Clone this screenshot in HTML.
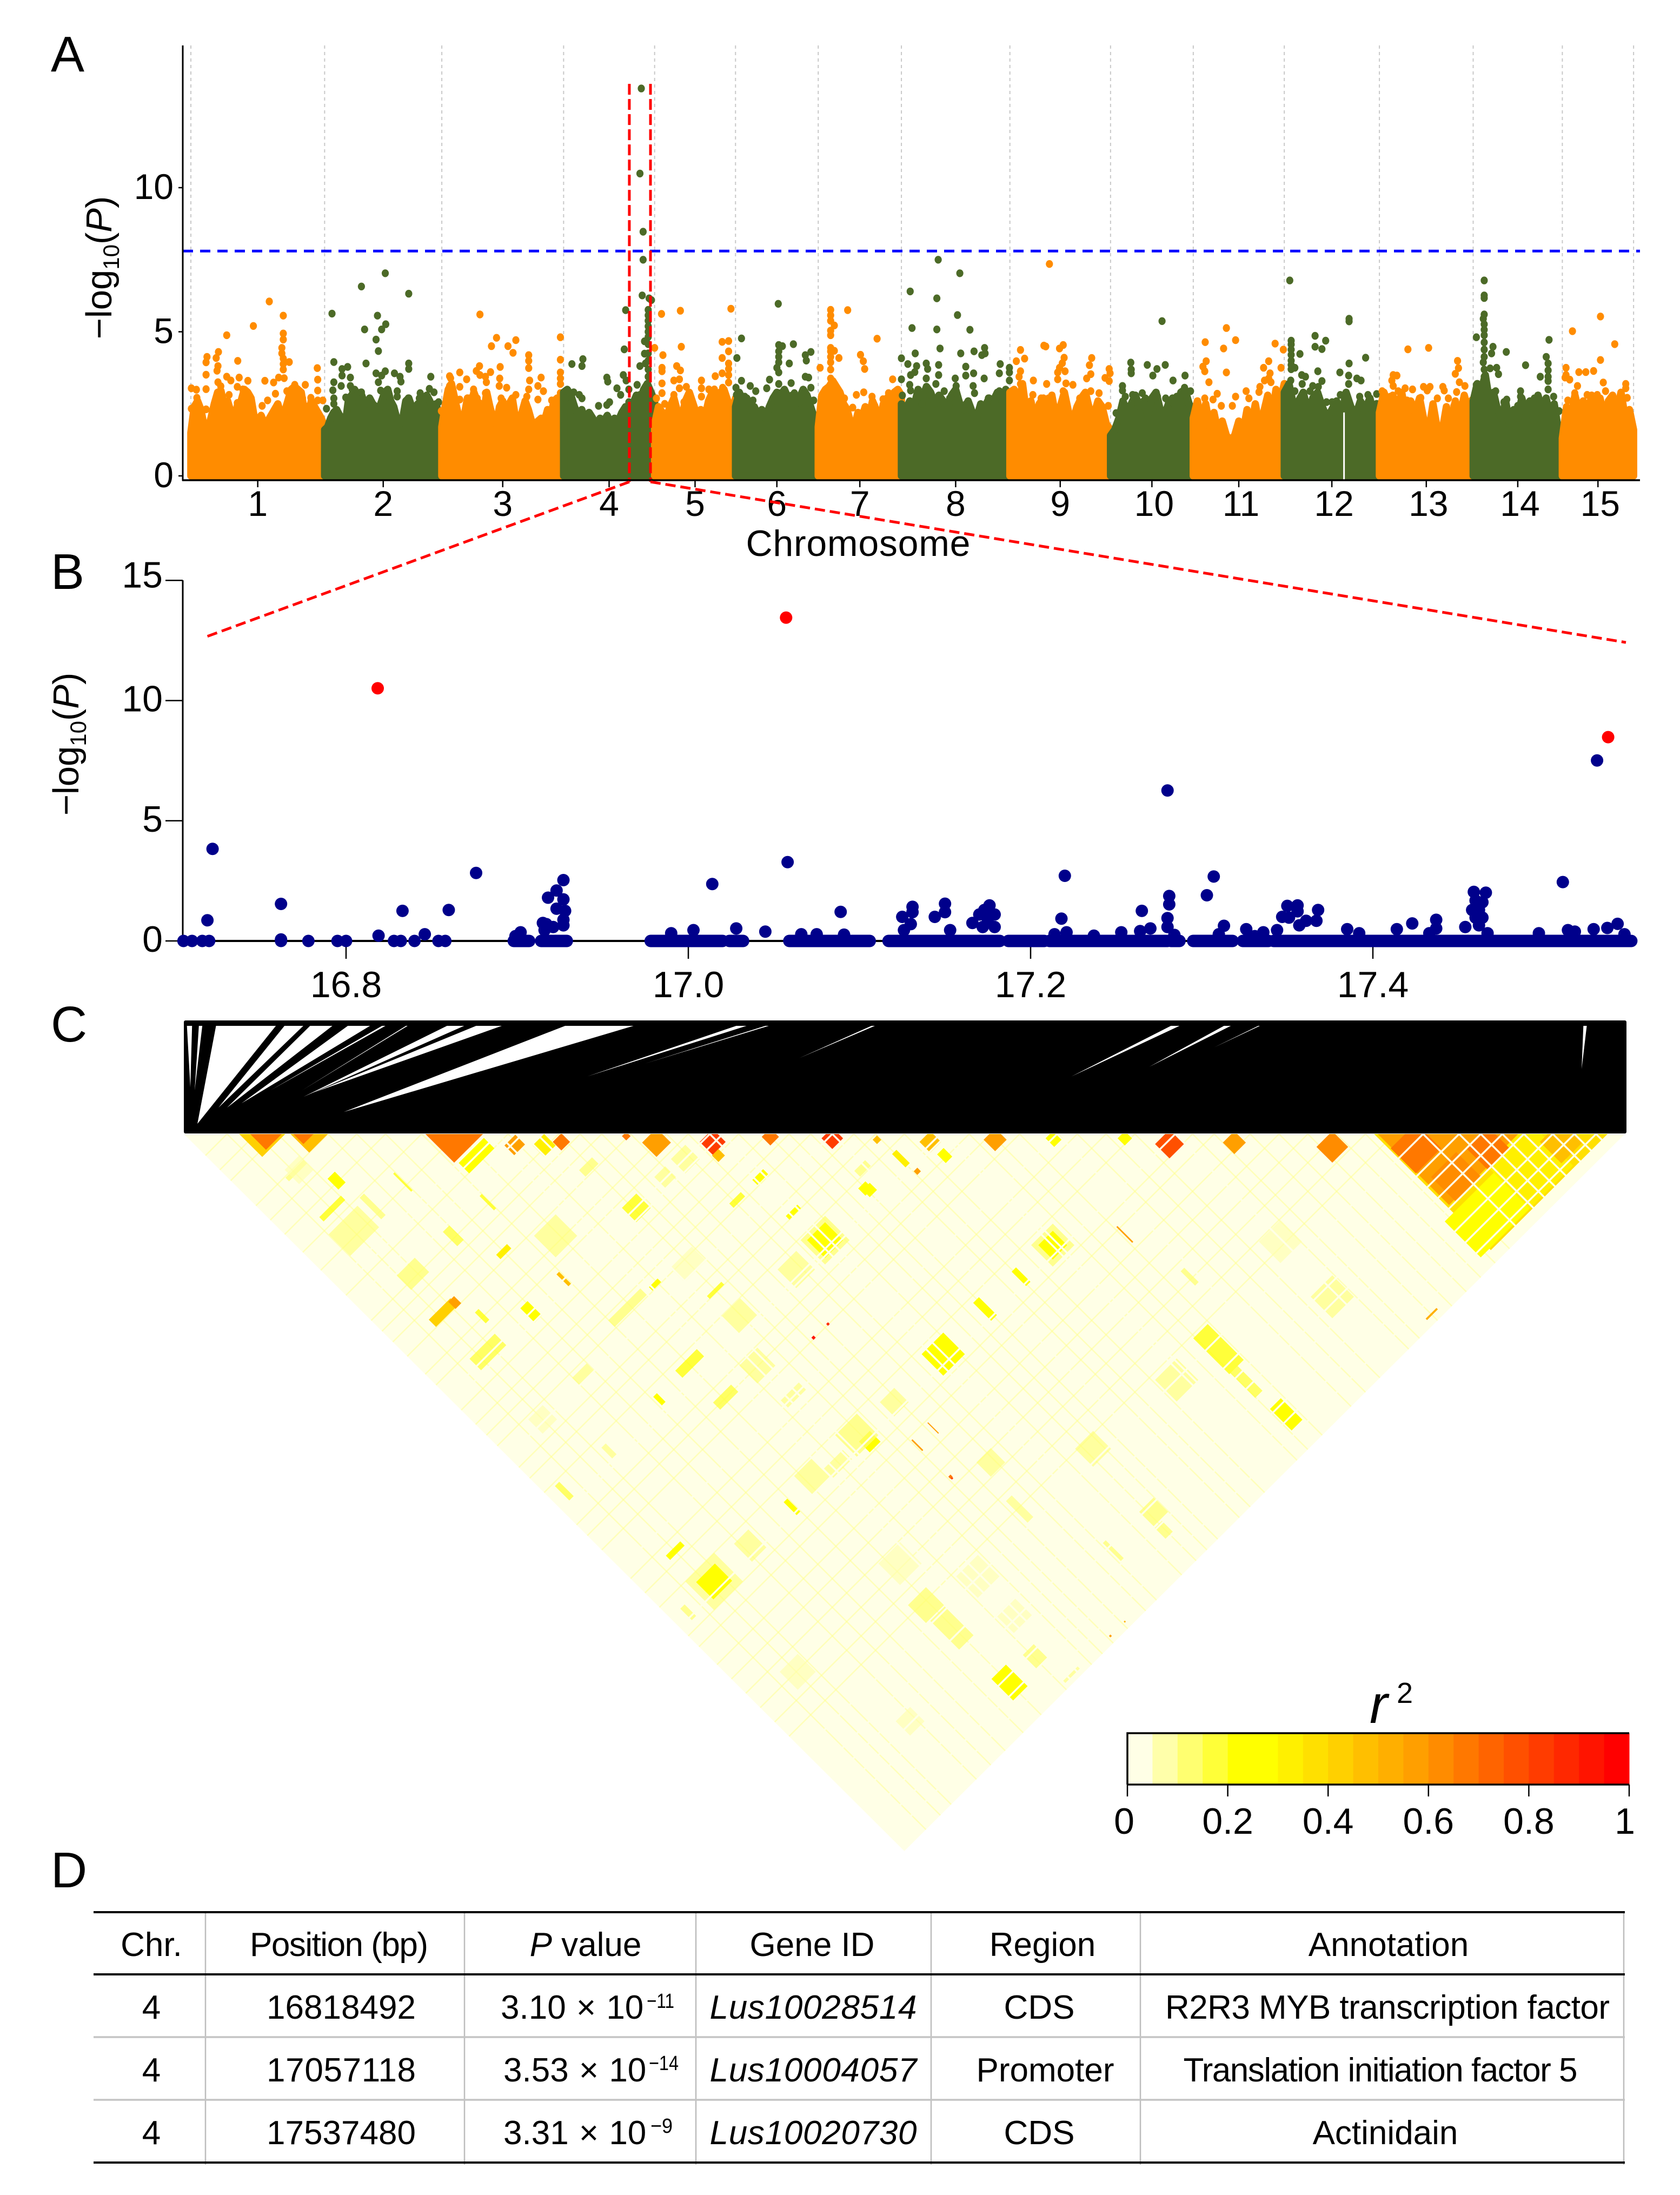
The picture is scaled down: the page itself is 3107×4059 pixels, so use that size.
<!DOCTYPE html>
<html lang="en">
<head>
<meta charset="utf-8">
<title>GWAS Manhattan plot, regional association and LD heatmap</title>
<style>
html,body{margin:0;padding:0;background:#fff}
svg{display:block}
text{font-family:"Liberation Sans",sans-serif;fill:#000}
</style>
</head>
<body>
<svg xmlns="http://www.w3.org/2000/svg" width="3107" height="4059" viewBox="0 0 3107 4059">
<rect width="3107" height="4059" fill="#fff"/>

<text x="94" y="132" font-size="93">A</text>
<text x="94" y="1089" font-size="93">B</text>
<text x="94" y="1926" font-size="93">C</text>
<text x="94" y="3490" font-size="93">D</text>

<g id="manhattan"></g>
<text transform="translate(206,495) rotate(-90)" text-anchor="middle" font-size="67">−log<tspan dy="14" font-size="42">10</tspan><tspan dy="-14">(</tspan><tspan font-style="italic">P</tspan>)</text>
<text x="1587" y="1028" text-anchor="middle" font-size="68" textLength="415">Chromosome</text>

<g id="regional"></g>
<text transform="translate(145,1376) rotate(-90)" text-anchor="middle" font-size="67">−log<tspan dy="14" font-size="42">10</tspan><tspan dy="-14">(</tspan><tspan font-style="italic">P</tspan>)</text>

<g id="zoomguides">
<line x1="1164" y1="891" x2="380" y2="1178" stroke="#f00" stroke-width="5" stroke-dasharray="19 9"/>
<line x1="1203" y1="891" x2="3007" y2="1188" stroke="#f00" stroke-width="5" stroke-dasharray="19 9"/>
</g>

<g id="ldlinks"></g>
<g id="ldmap"></g>
<g id="colorbar"></g>
<text x="2533" y="3186" font-size="100" font-style="italic">r</text>
<text x="2583" y="3149" font-size="54">2</text>

<g id="snp-table">
<g stroke="#bdbdbd" stroke-width="2.5">
<line x1="380" y1="3536" x2="380" y2="4003"/>
<line x1="859" y1="3536" x2="859" y2="4003"/>
<line x1="1287" y1="3536" x2="1287" y2="4003"/>
<line x1="1722" y1="3536" x2="1722" y2="4003"/>
<line x1="2109" y1="3536" x2="2109" y2="4003"/>
<line x1="3003" y1="3536" x2="3003" y2="4003"/>
</g>
<line x1="173" y1="3767" x2="3005" y2="3767" stroke="#c4c4c4" stroke-width="3.5"/>
<line x1="173" y1="3883" x2="3005" y2="3883" stroke="#c4c4c4" stroke-width="3.5"/>
<line x1="173" y1="3536" x2="3005" y2="3536" stroke="#000" stroke-width="4"/>
<line x1="173" y1="3651" x2="3005" y2="3651" stroke="#000" stroke-width="4"/>
<line x1="173" y1="3999" x2="3005" y2="3999" stroke="#000" stroke-width="4"/>

<g font-size="62" text-anchor="middle">
<text x="280" y="3617">Chr.</text>
<text x="627" y="3617" textLength="330">Position (bp)</text>
<text x="1083" y="3617"><tspan font-style="italic">P</tspan> value</text>
<text x="1502" y="3617">Gene ID</text>
<text x="1928" y="3617">Region</text>
<text x="2568" y="3617">Annotation</text>

<text x="280" y="3733">4</text>
<text x="631" y="3733" textLength="276">16818492</text>
<text x="1504" y="3733" textLength="383" font-style="italic">Lus10028514</text>
<text x="1922" y="3733">CDS</text>
<text x="2566" y="3733" textLength="822">R2R3 MYB transcription factor</text>

<text x="280" y="3849">4</text>
<text x="631" y="3849" textLength="276">17057118</text>
<text x="1504" y="3849" textLength="383" font-style="italic">Lus10004057</text>
<text x="1933" y="3849">Promoter</text>
<text x="2553" y="3849" textLength="729">Translation initiation factor 5</text>

<text x="280" y="3965">4</text>
<text x="631" y="3965" textLength="276">17537480</text>
<text x="1504" y="3965" textLength="383" font-style="italic">Lus10020730</text>
<text x="1922" y="3965">CDS</text>
<text x="2562" y="3965">Actinidain</text>
</g>
<g font-size="62">
<text x="926" y="3733" word-spacing="2">3.10 × 10</text>
<text x="1196" y="3713" font-size="38" textLength="51" lengthAdjust="spacingAndGlyphs">−11</text>
<text x="931" y="3849" word-spacing="2">3.53 × 10</text>
<text x="1200" y="3828" font-size="38" textLength="55" lengthAdjust="spacingAndGlyphs">−14</text>
<text x="931" y="3965" word-spacing="2">3.31 × 10</text>
<text x="1203" y="3944" font-size="38" textLength="41" lengthAdjust="spacingAndGlyphs">−9</text>
</g>
</g>
</svg>

<script>
// ---------- Panel A data ----------
const chrNames = ['1','2','3','4','5','6','7','8','9','10','11','12','13','14','15'];
const chrLengthMb = [29.1,25.5,26.5,19.8,17.6,18,18.1,23.6,21.9,18,19.8,20.7,20.4,19.4,15.5];
const manhattanTicks = [0,5,10];
const thresholdLogP = 7.8;
const regionGenomeMb = [95.4,100];
const regionTopLogP = 13.6;
const massGapGenomeMb = [250.9];

// ceiling of the dense, overlapping SNP mass, evenly sampled along each chromosome
const massChr1 = [1.5,2.4,2.6,2.3,1.7,1.6,2.0,2.5,2.9,2.95,2.4,2.6,2.2,1.9,2.5,2.6,3.0,2.9,2.7,2.0,1.9,2.1,1.8,1.9,2.1,2.3,2.5,2.1,2.2,2.6,3.0,3.1,3.0,2.9,2.2,1.9,2.6,2.4,2.2,2.0,1.7];
const massChr2 = [1.6,1.7,2.0,2.2,2.3,2.1,2.0,1.9,2.7,2.8,3.0,2.8,2.9,2.6,2.5,2.7,2.5,2.4,2.3,2.6,2.9,3.0,2.6,2.4,2.0,1.8,2.0,2.6,2.7,2.4,2.3,2.5,2.4,2.7,2.8,2.6,2.3,2.5,2.2,2.0];
const massChr3 = [1.7,2.4,3.0,3.2,2.7,2.2,1.9,2.1,2.7,2.4,2.9,2.6,2.5,2.1,2.9,2.4,2.0,1.8,2.4,2.6,2.2,2.5,2.7,2.0,1.9,2.2,2.6,2.3,1.9,1.8,1.9,2.0,1.9,2.3,2.1,2.6,2.7,2.5,2.2];
const massChr4 = [2.9,3.0,2.8,2.4,2.1,2.3,1.9,2.2,2.0,1.7,2.0,1.9,2.1,1.8,2.0,1.9,2.2,2.4,2.2,2.5,2.8,2.6,3.0,3.2,2.9,2.6];
const massChr5 = [1.8,2.4,2.2,2.0,2.4,2.7,2.2,2.0,2.6,2.9,2.5,2.1,2.3,2.0,2.6,2.9,2.7,2.9,3.0,2.6,2.2,2.7];
const massChr6 = [2.4,2.9,2.6,2.7,2.3,2.4,2.1,2.3,2.0,2.4,2.7,2.9,2.8,3.0,2.7,2.8,2.5,2.7,3.0,2.8,2.4,2.0,1.7];
const massChr7 = [1.7,2.8,3.0,3.1,3.3,3.1,2.9,2.5,2.3,1.8,1.7,2.2,2.0,2.4,2.0,2.6,2.3,1.9,2.5,2.7,2.4,2.9,3.0,2.8];
const massChr8 = [2.5,2.3,2.6,2.4,3.0,2.7,3.1,2.9,2.5,2.8,2.6,2.3,2.8,3.0,2.5,2.3,2.6,2.2,2.0,2.5,2.4,2.7,2.6,2.9,2.7,3.0,2.8];
const massChr9 = [2.9,3.0,2.4,3.2,2.1,2.6,1.9,2.5,2.7,2.3,2.8,2.0,2.4,2.9,2.2,1.9,2.4,2.7,2.9,2.3,2.1,2.6,2.4,1.8,1.6];
const massChr10 = [1.4,1.6,2.0,2.6,2.2,2.5,2.8,2.4,2.6,2.1,2.7,2.9,2.3,2.1,2.5,2.7,2.3,2.9,3.0,2.5,2.2];
const massChr11 = [2.0,2.6,1.8,2.5,1.7,2.2,1.5,1.9,1.4,1.25,1.4,1.9,1.5,2.3,1.7,2.5,1.7,2.2,2.8,2.0,3.0,2.6,3.2];
const massChr12 = [2.9,3.2,2.4,2.6,2.9,2.2,2.7,2.9,2.4,2.0,2.3,2.6,2.1,2.9,2.4,2.1,2.6,2.3,2.7,2.0,2.5];
const massChr13 = [2.2,2.9,2.5,2.8,2.3,2.9,2.0,2.6,2.2,2.7,1.9,1.5,2.5,1.6,1.5,2.4,1.8,2.6,2.0,2.8,2.2,2.4];
const massChr14 = [2.6,3.2,3.0,3.5,2.6,2.9,2.3,2.0,2.6,1.8,2.3,2.0,2.7,2.2,2.6,1.9,2.8,2.3,2.7,2.1,2.5,1.6,1.3];
const massChr15 = [1.3,2.4,2.0,2.8,2.2,2.6,2.1,2.8,2.3,2.7,2.0,2.6,2.8,2.2,2.9,2.0,2.3,1.6];

// individually visible SNPs: [genome position in Mb, -log10 P]
const hitsChr1 = [[17.06,6.05],[13.6,5.2],[20.1,5.56],[7.8,4.88],[20.1,4.94],[20.1,4.73],[19.8,4.44],[19.8,4.25],[20.1,4.07],[20.1,3.88],[20.1,3.69],[21.4,3.95],[6,4.3],[3.5,4.13],[3.3,3.94],[5.5,4.09],[10.2,3.99],[5.9,3.81],[5.7,3.65],[3.3,3.51],[27.5,3.74],[10.5,3.41],[7.8,3.44],[8.7,3.31],[12.4,3.3],[16.1,3.3],[19.1,3.41],[20.3,3.39],[18,3.24],[27.6,3.34],[22.6,3.16],[24.9,3.16],[27.6,2.96],[0.1,3.04],[1.2,2.99],[3.3,3.01],[5.9,3.25],[6.5,3.11],[10.1,3.09],[11.3,3],[18.4,2.85],[20.9,2.94],[16.7,2.62],[24.3,2.69],[26.1,2.71],[27.6,2.62],[28.7,2.62],[1.3,2.71],[6.5,2.71],[8.3,2.81],[0.1,2.33],[1,2.46],[3.3,2.31],[8.5,2.35],[10.1,2.53],[15.5,2.43],[13.1,2.33],[22.7,2.43],[25.7,2.43]];
const hitsChr2 = [[42.3,7.03],[37.1,6.57],[47.4,6.32],[30.7,5.63],[40.6,5.56],[42.4,5.26],[37.8,5.08],[41.5,5.08],[40.3,4.73],[40.8,4.33],[31.1,3.95],[38.1,3.9],[47.4,3.9],[47.4,3.71],[34.1,3.78],[32.9,3.71],[42.3,3.63],[40.3,3.56],[41.5,3.48],[44.3,3.56],[45.5,3.44],[45.7,3.27],[52.2,3.44],[32.9,3.48],[34.7,3.41],[31.1,3.25],[34.7,3.12],[32.7,3.12],[40.8,3.25],[51.9,3.02],[52.9,2.9],[30.9,2.97],[35.1,3],[37.1,2.9],[41.3,2.96],[42.5,2.94],[44.9,2.94],[49.9,2.87],[31.1,2.69],[33.7,2.72],[44.9,2.75],[47.3,2.69],[49.7,2.69],[53.9,2.56],[31.1,2.5],[36.5,2.56],[38.9,2.62],[43.1,2.43],[29.5,2.33]];
const hitsChr3 = [[62.9,5.6],[80.4,4.81],[66.5,4.79],[70.7,4.71],[65.4,4.5],[69,4.5],[70.1,4.27],[73.5,4.19],[73.5,3.99],[73.5,3.74],[80.4,4.03],[80.4,3.59],[62.8,3.81],[62.1,3.64],[67.3,3.78],[65.2,3.6],[58.5,3.59],[56.3,3.46],[56.5,3.39],[60,3.35],[62.9,3.5],[64.1,3.44],[76.2,3.41],[73.7,3.31],[80.4,3.38],[80.4,3.19],[67.2,3.38],[67.1,3.12],[64.3,3.25],[56.3,3.12],[58.5,3.09],[61.5,3],[68.7,3.06],[75.5,3.12],[73.5,3],[76.7,2.94],[64.1,2.87],[70.7,2.81],[80.4,2.87],[56.3,2.81],[73.1,2.75],[75.5,2.65],[78.5,2.62],[67.5,2.69],[58.5,2.65],[60.5,2.69],[62.3,2.69],[54.5,2.25]];
const hitsChr4 = [[94.6,5.75],[98,13.44],[97.7,10.49],[98.4,8.47],[98.4,7.5],[98.2,6.26],[99.7,6.16],[100.2,6.1],[99.5,5.76],[99.5,5.57],[99.5,5.38],[99.5,5.19],[99.5,5],[99.5,4.82],[98.7,4.67],[94.3,4.39],[98.7,4.24],[99.5,4.57],[99.5,4.25],[99.5,4],[99.5,3.69],[98.9,3.9],[85.3,4.05],[85.1,3.81],[82.9,3.88],[97.7,3.81],[94.1,3.5],[94.7,3.31],[90.5,3.41],[90.7,3.27],[92.7,3.04],[97.1,3.16],[98.9,3.06],[99.5,3.44],[95.3,3],[82.1,2.81],[83.3,2.9],[84.5,2.81],[81.5,2.69],[85.1,2.69],[93.5,2.81],[97.7,2.81],[91.1,2.56],[88.7,2.43],[83.3,2.43],[95.3,2.56],[90.5,2.46]];
const hitsChr5 = [[106.5,5.73],[102.4,5.62],[106.7,4.48],[100.9,4.44],[102.7,4.19],[117.5,5.8],[115.6,4.65],[117,4.68],[117,4.32],[115.6,4.09],[117,3.9],[117,3.71],[117,3.5],[105.7,3.81],[106.5,3.66],[102.5,3.75],[102.5,3.63],[115.6,3.56],[114.1,3.46],[106.3,3.35],[105.1,3.31],[111.1,3.31],[117,3.24],[102.5,3.21],[107.8,3.09],[106.3,3.04],[111.1,3.04],[112.7,3],[113.9,3],[115.7,3.06],[102.5,2.87],[105.1,2.81],[108.5,2.84],[111.1,2.75],[115.7,2.69],[101.3,2.69],[107.3,2.56],[113.3,2.62],[103.1,2.5],[109.1,2.43]];
const hitsChr6 = [[127.8,5.97],[119.8,4.77],[127.9,4.54],[128.7,4.5],[131.1,4.57],[127.9,4.32],[127.9,4.13],[127.9,3.94],[127.5,3.75],[127.9,3.59],[134.9,4.3],[133.7,4.19],[133.9,4],[118.8,4.09],[130.2,3.9],[133.7,3.44],[134.4,3.41],[119.8,3.3],[125.9,3.34],[130.6,3.22],[127.9,3.19],[118.6,3.06],[121.7,3.12],[125.3,3.04],[122.9,2.94],[134.9,3.06],[118.7,2.81],[120.5,2.75],[131.3,2.87],[133.7,2.87],[127.9,2.87],[135.5,2.62],[122.3,2.62],[132.5,2.56]];
const hitsChr7 = [[139.2,5.76],[139.2,5.57],[139.2,5.38],[140,5.22],[139.2,5.04],[139.2,4.88],[142.9,5.75],[149.3,4.76],[139.2,4.44],[139.2,4.32],[140,4.34],[145.7,4.2],[146.3,3.98],[146.6,3.71],[141,4.09],[139.2,4.13],[139.2,3.94],[136.9,3.75],[139.2,3.69],[139.2,3.38],[152.7,3.35],[139.4,3.06],[153.6,2.94],[151.8,2.87],[144.8,2.81],[146.4,2.9],[142.2,2.69],[148.2,2.75],[150.6,2.66],[144,2.37],[148.8,2.43]];
const hitsChr8 = [[162.6,7.5],[167.3,7.03],[156.5,6.4],[162.3,6.16],[166.8,5.58],[156.9,5.13],[162.3,5.08],[169.5,5.07],[163,4.42],[157.6,4.25],[167.5,4.25],[170.4,4.32],[172.7,4.44],[172.1,4.19],[172.8,4.25],[154.6,4.08],[156,3.88],[160,3.9],[162.7,3.85],[168.6,3.79],[176.1,3.88],[178.1,3.75],[178.1,3.59],[157.9,3.81],[160.3,3.71],[157.5,3.6],[156.6,3.5],[170.3,3.56],[168.6,3.48],[175.9,3.56],[162.7,3.5],[154.6,3.35],[160,3.38],[166.3,3.38],[172.6,3.38],[178.1,3.31],[156.4,3.16],[162.1,3.19],[166.5,3.12],[170.2,3.12],[156.6,2.96],[160,3],[163.9,2.94],[175.9,2.94],[178.1,2.9],[170.5,2.87],[166.5,2.87],[154.8,2.79],[165.1,2.69],[173.5,2.69],[176.5,2.56],[159.1,2.5],[168.7,2.5]];
const hitsChr9 = [[186.8,7.35],[185.6,4.52],[186,4.49],[189.8,4.54],[189,4.42],[180.5,4.37],[190,4.1],[196,4.09],[181.4,4.07],[179.6,3.98],[189.6,3.91],[195.5,3.84],[180.5,3.63],[189,3.75],[190.2,3.63],[188.6,3.59],[195.8,3.53],[180.2,3.44],[183.3,3.31],[188.6,3.35],[194.9,3.38],[180.5,3.19],[186.2,3.19],[190.4,3.21],[191.9,3.16],[180.8,3],[189.8,2.94],[195.8,2.94],[197.6,2.87],[183.2,2.81],[185,2.69],[186.6,2.69],[193.4,2.69],[194.6,2.75],[180.8,2.69],[198.9,3.4],[199.8,3.71],[200,3.56],[199.8,3.29],[199.6,2.43]];
const hitsChr10 = [[211.3,5.37],[204.5,3.93],[204.6,3.69],[204.6,3.56],[208.1,3.85],[212,3.85],[210.2,3.71],[209.3,3.48],[216.3,3.48],[213.7,3.31],[202.7,3.12],[202.7,2.96],[216.2,3.06],[217.5,2.94],[216.2,2.94],[204.9,2.81],[207,2.87],[207.7,2.69],[210.3,2.75],[212.1,2.69],[214.5,2.75],[203.3,2.75],[206.1,2.56],[201.3,2.18],[212.7,2.56],[216.9,2.56]];
const hitsChr11 = [[225.3,5.13],[227.3,4.71],[220.7,4.64],[224.7,4.42],[235.9,4.59],[234.5,3.98],[220.9,3.98],[220.2,3.79],[220.6,3.63],[233.4,3.75],[237.2,3.75],[225.3,3.59],[234.8,3.56],[234.5,3.38],[233.6,3.31],[221.5,3.25],[235,3.25],[232.6,3.09],[229.6,2.94],[223.3,2.85],[227.3,2.75],[232.4,2.91],[218.8,2.46],[220.6,2.69],[222.4,2.65],[230.2,2.69],[234.4,2.69],[237.7,2.94],[237.7,2.69],[226.6,2.43],[224.2,2.43],[237.7,4.38]];
const hitsChr12 = [[239.1,6.78],[252,5.45],[252,5.36],[239.4,4.69],[239.4,4.56],[244.6,4.86],[246.9,4.69],[244.6,4.48],[246.1,4.4],[239.4,4.38],[239.4,4.2],[239.4,4],[239.4,3.85],[239.4,3.7],[241.3,4.23],[255.6,4.1],[252,3.9],[245.2,3.63],[250,3.59],[240.2,3.75],[241.7,3.5],[242.5,3.44],[251.9,3.48],[253.7,3.38],[254.6,3.31],[246.1,3.29],[241.8,3.19],[251.9,3.19],[239.3,3.31],[244.1,3.12],[245.3,3.09],[240.2,2.94],[243.5,2.94],[250.1,2.81],[256.1,2.81],[258,2.84],[254.3,2.75],[248.3,2.56],[247.1,2.56],[258,2.5]];
const hitsChr13 = [[264.8,4.39],[269.3,4.44],[275.6,3.99],[275.8,3.74],[275.1,3.54],[261.6,3.5],[262.4,3.48],[261.3,3.31],[261.6,3.12],[276,3.25],[277.2,3.12],[272.4,3.09],[268.2,3.09],[269.6,3.09],[269,2.96],[264.2,3.04],[265.8,3],[259.2,2.94],[262.7,2.94],[275.4,2.91],[272.7,2.96],[261,2.75],[267.6,2.71],[271.2,2.69],[273.6,2.69],[264.6,2.62],[278.7,2.62],[266.4,2.43],[274.8,2.43]];
const hitsChr14 = [[281.4,6.78],[281.4,6.26],[281.4,6.17],[281.4,5.6],[281.2,5.45],[281.4,5.26],[281.4,5.07],[281.4,4.88],[281.4,4.63],[279.7,4.81],[295.5,4.72],[283.3,4.48],[283,4.25],[286.2,4.3],[281.4,4.38],[281.4,4.13],[281.2,3.94],[281.4,3.69],[281.4,3.44],[281.4,3.19],[294.9,4.13],[290.4,3.84],[295.3,3.9],[295.3,3.66],[295.3,3.44],[293.6,3.44],[295.3,3.29],[282.7,3.73],[284.1,3.75],[284.5,3.53],[279.7,3.16],[279.7,3],[289.3,2.94],[295.3,3],[283.9,2.94],[286.3,2.65],[289.3,2.75],[292.3,2.69],[296.5,2.75],[293.6,2.56],[285.7,2.56],[288.7,2.43],[297.7,2.25]];
const hitsChr15 = [[306.7,5.53],[300.6,5.02],[309.8,4.57],[306.7,4.02],[299.2,3.75],[299.2,3.5],[299,3.41],[302,3.6],[303.5,3.6],[305.2,3.64],[300,3.34],[307.3,3.24],[312.2,3.19],[312.2,3.04],[301.7,3.12],[307.8,2.94],[301.1,2.87],[303.8,2.81],[306,2.81],[311,2.71],[312.5,2.71],[299.6,2.62],[308.6,2.53],[306.8,2.43],[311,2.31],[313.4,1.87]];

// ---------- Panel B data ----------
const regionalYTicks = [0,5,10,15];
const regionalXTicks = [16.8,17.0,17.2,17.4];
const regionalXLabels = ['16.8','17.0','17.2','17.4'];
const leadSnpMb = [16.818492,17.057118,17.53748];
const leadSnpLogP = [10.51,13.45,8.48];
const baselineSingleMb = [16.705,16.71,16.716,16.72,16.762,16.778,16.795,16.8,16.828,16.832,16.84,16.854,16.858];
const baselineRunStartMb = [16.898,16.914,16.978,17.024,17.059,17.117,17.187,17.211,17.282,17.295,17.324,17.342];
const baselineRunEndMb = [16.907,16.929,17.02,17.032,17.106,17.182,17.208,17.28,17.287,17.318,17.339,17.551];
// [position in Mb, -log10 P]
const regionalHits = [[16.722,3.83],[16.719,0.86],[16.762,1.54],[16.762,0.06],[16.819,0.22],[16.833,1.25],[16.846,0.28],[16.86,1.29],[16.876,2.83],[16.927,2.53],[16.923,2.1],[16.918,1.8],[16.927,1.73],[16.923,1.34],[16.928,1.25],[16.927,0.88],[16.927,0.65],[16.915,0.75],[16.917,0.7],[16.916,0.45],[16.921,0.58],[16.902,0.36],[16.899,0.2],[16.99,0.32],[17.003,0.45],[17.028,0.52],[17.014,2.37],[17.045,0.39],[17.058,3.28],[17.089,1.21],[17.066,0.28],[17.075,0.28],[17.091,0.26],[17.125,1],[17.131,1.42],[17.131,1.2],[17.13,0.7],[17.126,0.45],[17.15,1.55],[17.15,1.2],[17.144,1],[17.153,0.45],[17.173,1.29],[17.179,1.1],[17.17,1.1],[17.166,0.75],[17.175,0.9],[17.179,0.58],[17.172,0.58],[17.176,1.48],[17.22,2.71],[17.218,0.93],[17.221,0.36],[17.214,0.28],[17.237,0.22],[17.253,0.36],[17.265,1.25],[17.264,0.41],[17.27,0.52],[17.28,6.26],[17.281,1.87],[17.281,1.52],[17.28,0.95],[17.28,0.58],[17.284,0.25],[17.531,7.51],[17.307,2.68],[17.303,1.9],[17.313,0.63],[17.31,0.28],[17.326,0.49],[17.336,0.36],[17.331,0.2],[17.35,1.46],[17.356,1.48],[17.356,1.23],[17.368,1.29],[17.347,1],[17.351,0.97],[17.367,0.84],[17.361,0.84],[17.344,0.45],[17.357,0.65],[17.385,0.49],[17.392,0.32],[17.414,0.49],[17.423,0.73],[17.437,0.88],[17.437,0.52],[17.433,0.32],[17.459,2.04],[17.466,2.01],[17.46,1.68],[17.464,1.61],[17.458,1.29],[17.462,1.29],[17.464,0.97],[17.46,0.97],[17.462,0.65],[17.454,0.58],[17.467,0.32],[17.511,2.45],[17.497,0.32],[17.514,0.45],[17.518,0.39],[17.529,0.49],[17.537,0.54],[17.543,0.71],[17.547,0.28]];

// ---------- Panel C data ----------
const colorbarTicks = [0,0.2,0.4,0.6,0.8,1];
const colorbarLabels = ['0','0.2','0.4','0.6','0.8','1'];
const r2Palette = ['#FFFFE6','#FFFFAA','#FFFF70','#FFFF38','#FFFF00','#FFFF00','#FFF000','#FFE000','#FFD000','#FFBF00','#FFAF00','#FF9F00','#FF8C00','#FF7800','#FF6400','#FF5000','#FF3C00','#FF2800','#FF1400','#FF0000'];
// [physical start Mb, physical end Mb, SNP index % at the convergence point, depth fraction of the band]
const linkGaps = [[16.707,16.71,0.45,0.57],[16.714,16.716,0.75,0.6],[16.724,16.759,0.94,0.91],[16.764,16.775,2.4,0.76],[16.779,16.792,3,0.76],[16.801,16.814,4,0.72],[16.821,16.823,6,0.6],[16.835,16.836,8.2,0.6],[16.859,16.869,8.3,0.66],[16.876,16.891,9,0.62],[16.928,16.968,11.1,0.8],[17.028,17.034,28,0.47],[17.045,17.047,32,0.35],[17.107,17.109,42.7,0.3],[17.282,17.287,61.6,0.47],[17.313,17.317,67,0.38],[17.333,17.334,71.5,0.2],[17.523,17.525,97,0.4]];
// LD blocks: [centre SNP index %, pair separation %, span along first SNP %, span along second SNP %, r2]
const ldBlocksBase = [[5.44,0,3.2,3.2,0.42],[5.7,0,2.2,2.2,0.66],[8.7,0,2.6,2.6,0.45],[8.3,0,1.4,1.4,0.66],[18.76,0,4,4,0.7],[20.3,3,3.5,1.5,0.3],[23,1.6,1.5,1.5,0.6],[25,1.6,1.6,1.6,0.35],[26.2,1.1,1.2,1.2,0.7],[30.7,0.3,0.6,0.6,0.7],[32.8,1.2,2,2,0.55],[36.7,1.1,1.8,1.8,0.8],[37.1,3,0.9,0.9,0.45],[40.7,0.4,1.2,1.2,0.7],[45,0.6,1.5,1.5,0.8],[48.1,0.8,0.6,0.6,0.45],[51.8,1.1,1.5,1.5,0.45],[52.8,3,0.9,1.2,0.3],[56.3,0.8,1.6,1.6,0.55],[60.4,0.6,1.2,1.2,0.3],[65.3,0.6,1,1,0.3],[68.4,1.4,2,2,0.75],[72.9,1.2,1.6,1.6,0.55],[79.7,1.8,2.2,2.2,0.62]];
const ldBlocksRight = [[90.7,0,16.2,16.2,0.36],[87.8,0,9.9,9.9,0.6],[90.5,11.2,7,5,0.28],[93.4,4.4,6,6,0.33],[95.6,1.1,3,3,0.45],[88.3,6,3.5,3.5,0.62],[85.5,2,3.5,3.5,0.68],[90.5,2,3,3,0.66]];
const ldBlocksLeft = [[10.6,6.5,1,1.5,0.3],[7.8,5.1,2.5,0.5,0.15],[8,5,2,2,0.09],[11.8,13.5,4,3,0.1],[10.3,10.4,3,0.6,0.2],[13.1,10.1,0.6,3,0.15],[15.2,6.7,0.2,2.5,0.2],[18.7,14.2,0.9,2,0.18],[15.9,19.5,2.5,2,0.15],[21.1,9.5,0.3,2,0.2],[28.1,4.6,1.8,0.9,0.15],[31.4,10.3,2,2,0.2],[34.8,3.5,2,2,0.1],[33.4,6,1.5,1.5,0.1],[40,6,1.5,0.7,0.3],[38.4,9.2,1.6,0.6,0.2],[42.3,10.9,1.6,0.5,0.28],[47.3,7.6,1,1,0.25],[47.1,4.8,1.5,0.8,0.15],[44.5,14.8,3.4,3.4,0.13],[44.5,14.8,2.5,2.5,0.27],[42.5,18.9,2.6,2.6,0.1],[25.8,14.2,3,3,0.12],[22.2,16.4,1.5,0.6,0.33],[26.4,20.3,0.35,1.8,0.45],[32.7,21,1.2,0.5,0.3],[30.8,24.2,4.5,0.9,0.15],[36.9,21.8,2,0.4,0.2],[35,18.2,3,2,0.08],[18,24.9,3,1,0.42],[18.8,23.5,0.8,1,0.6],[20.7,25.4,0.5,1.5,0.2],[24.1,24.8,1,2,0.22],[38.6,25.4,2.5,2.5,0.1],[21.1,30.4,3.5,1.6,0.17],[27.7,33.5,2,1,0.1],[35.1,32,3,1,0.2],[37.6,36.7,2.5,1,0.18],[33,37,0.5,1.2,0.25],[42.3,36.4,2.5,1,0.1],[39.8,32.3,2.5,2.5,0.1],[46.7,42,3,3,0.15],[45.4,46,2.6,1.3,0.12],[24.9,39.8,2,2,0.09],[29.5,44.2,0.6,1.5,0.1],[43.7,28.4,0.3,0.3,0.9],[44.7,26.5,0.25,0.25,0.85]];
const ldBlocksMiddle = [[60.3,15.5,3,3,0.13],[60.3,15.5,2,2,0.25],[49.8,3.5,0.6,2,0.35],[50.9,5.2,0.5,0.5,0.55],[47.6,7.8,1,1,0.25],[58.1,19.9,0.6,2,0.25],[55.6,24.4,0.8,2.5,0.28],[52.7,30.7,3,3,0.25],[49.3,37.4,2,2,0.12],[65.3,14,0.15,2.2,0.6],[76.1,15,3,3,0.08],[79.7,22.7,3,3,0.1],[69.8,19.9,0.5,2,0.15],[71.8,30,2,5,0.2],[76.5,39.1,1.5,3,0.27],[73.6,34.3,1,4,0.18],[68.9,34.3,3,3,0.1],[50.9,43.4,0.15,1.5,0.6],[52,41,0.1,1.5,0.55],[47.6,42.9,1.5,1.5,0.25],[86.6,25.1,1.5,0.2,0.5],[63.1,43.9,2.5,2.5,0.1],[53.2,47.8,0.3,0.3,0.7],[56,45.8,2,2,0.1]];
const ldBlocksLower = [[36.8,62.4,4,4,0.1],[36.8,62.4,2.6,2.4,0.22],[34.1,58.1,2,0.6,0.22],[39.3,57.4,2,2.5,0.12],[42.2,52,0.5,1.8,0.27],[26.4,49.8,0.6,2,0.17],[35,66.7,0.6,1.6,0.15],[43.6,47.7,2.5,2.5,0.12],[58,52.3,0.8,3,0.12],[67.3,52.7,2,2,0.13],[68,55.2,1,1.5,0.15],[64.5,58.1,0.4,2.5,0.14],[51.5,65.7,2.5,2.5,0.13],[53.3,68.9,2,4,0.14],[55.1,61.7,3,3,0.09],[49.7,59.9,3,3,0.08],[57.3,76.5,2,3,0.24],[59.1,72.9,1.6,2,0.13],[57.6,67.1,2.5,2.5,0.09],[42.6,75,2.5,2.5,0.07],[50.4,81.9,2,2,0.08],[43.6,88.7,0.3,5,0.08],[61.6,75.4,2,0.3,0.12],[53.3,48,0.2,0.2,0.8],[64.3,70,0.2,0.2,0.6],[65.3,68,0.15,0.15,0.5]];
const ldGapSnps = [21,21.8,23.5,24.5,36.5,37.4,45,52.5,53,60.6,68.8,86,88.5,90,91.5,93,95,96.5,98];
const ldStreakSnps = [3,5,6.5,10,12,14,16.5,19,22.5,26,27.5,29,31,33.5,35,38.5,40.5,42,43.5,46.5,48,50,54.5,56,58,62,64,66,70,71.5,74,76,78,80,82,84];

// ---------- scales ----------
const manhattanX0 = 353, manhattanPxPerMb = 8.5, manhattanY0 = 880, manhattanPxPerUnit = 53.3;
function mx(mb){ return manhattanX0 + mb * manhattanPxPerMb; }
function my(v){ return manhattanY0 - v * manhattanPxPerUnit; }
function rx(mb){ return 640 + (mb - 16.8) * 3165; }
function ry(v){ return 1740 - v * 44.45; }
const ldX0 = 340, ldY0 = 2097, ldW = 2665, ldH = 1326;
function ldPt(a,b){ return (ldX0 + ldW*(a+b)/200).toFixed(1) + ',' + (ldY0 + ldH*(b-a)/100).toFixed(1); }
function r2Color(v){ return r2Palette[Math.min(r2Palette.length-1, Math.floor(v/0.05))]; }

const NS = 'http://www.w3.org/2000/svg';
function add(parent, tag, attrs){
  const el = document.createElementNS(NS, tag);
  for (const k in attrs) el.setAttribute(k, attrs[k]);
  parent.appendChild(el);
  return el;
}

// ---------- Panel A ----------
const gA = document.getElementById('manhattan');
const chrMasses = [massChr1,massChr2,massChr3,massChr4,massChr5,massChr6,massChr7,massChr8,massChr9,massChr10,massChr11,massChr12,massChr13,massChr14,massChr15];
const chrHits = [hitsChr1,hitsChr2,hitsChr3,hitsChr4,hitsChr5,hitsChr6,hitsChr7,hitsChr8,hitsChr9,hitsChr10,hitsChr11,hitsChr12,hitsChr13,hitsChr14,hitsChr15];
const chrStart = [0];
chrLengthMb.forEach(function(len){ chrStart.push(chrStart[chrStart.length-1] + len); });

chrStart.forEach(function(s){
  const grid = add(gA,'line',{x1:mx(s),x2:mx(s),y1:84,y2:888,stroke:'#c8c8c8','stroke-width':2,'stroke-dasharray':'6 6'});
  
  
});

chrNames.forEach(function(name,i){
  const color = i % 2 === 0 ? '#FF8C00' : '#4C6A27';
  const start = chrStart[i], len = chrLengthMb[i], ceil = chrMasses[i];
  let d = 'M' + mx(start) + ' ' + my(0);
  ceil.forEach(function(v,j){
    d += 'L' + mx(start + len*j/(ceil.length-1)).toFixed(1) + ' ' + my(v).toFixed(1);
  });
  d += 'L' + mx(start+len) + ' ' + my(0) + 'Z';
  const mass = add(gA,'path',{d:d,fill:color,stroke:color,'stroke-width':13.6,'stroke-linejoin':'round'});
  
  
  chrHits[i].forEach(function(p){
    const dot = add(gA,'ellipse',{cx:mx(p[0]).toFixed(1),cy:my(p[1]).toFixed(1),rx:6.6,ry:7.2,fill:color});
    
    
  });
  const mid = start + len/2;
  const tick = add(gA,'line',{x1:mx(mid),x2:mx(mid),y1:888,y2:901,stroke:'#000','stroke-width':2.5});
  
  
  const label = add(gA,'text',{x:mx(mid)+(name.length>1?4:0),y:954,'font-size':66,'text-anchor':'middle'});
  label.textContent = name;
  
  
});

massGapGenomeMb.forEach(function(g){
  const gap = add(gA,'rect',{x:mx(g)-1.5,y:my(2.2),width:3,height:my(0)+8-my(2.2),fill:'#fff'});
  
  
});

const thresholdLine = add(gA,'line',{x1:338,x2:3033,y1:my(thresholdLogP),y2:my(thresholdLogP),stroke:'#00f','stroke-width':5,'stroke-dasharray':'19 13'});



regionGenomeMb.forEach(function(g){
  const edge = add(gA,'line',{x1:mx(g),x2:mx(g),y1:my(regionTopLogP),y2:891,stroke:'#f00','stroke-width':5,'stroke-dasharray':'20 8'});
  
  
});

const yAxisA = add(gA,'line',{x1:338,x2:338,y1:84,y2:889,stroke:'#000','stroke-width':3});


const xAxisA = add(gA,'line',{x1:337,x2:3033,y1:888,y2:888,stroke:'#000','stroke-width':3.5});



manhattanTicks.forEach(function(v){
  const t = add(gA,'line',{x1:330,x2:338,y1:my(v),y2:my(v),stroke:'#000','stroke-width':2.5});
  
  
  const l = add(gA,'text',{x:321,y:my(v)+21,'font-size':66,'text-anchor':'end'});
  l.textContent = String(v);
  
  
});

// ---------- Panel B ----------
const gB = document.getElementById('regional');
regionalXTicks.forEach(function(m,i){
  const t = add(gB,'line',{x1:rx(m),x2:rx(m),y1:1740,y2:1773,stroke:'#000','stroke-width':2.5});
  
  
  const l = add(gB,'text',{x:rx(m),y:1844,'font-size':68,'text-anchor':'middle'});
  l.textContent = regionalXLabels[i];
  
  
});
regionalYTicks.forEach(function(v){
  const t = add(gB,'line',{x1:306,x2:338,y1:ry(v),y2:ry(v),stroke:'#000','stroke-width':2.5});
  
  
  const l = add(gB,'text',{x:301,y:ry(v)+(v===15?13:20),'font-size':68,'text-anchor':'end'});
  l.textContent = String(v);
  
  
});
const yAxisB = add(gB,'line',{x1:338,x2:338,y1:1073,y2:1741,stroke:'#000','stroke-width':3});


const xAxisB = add(gB,'line',{x1:338,x2:3025,y1:1740,y2:1740,stroke:'#000','stroke-width':4});



baselineRunStartMb.forEach(function(s,i){
  const run = add(gB,'line',{x1:rx(s),x2:rx(baselineRunEndMb[i]),y1:ry(0),y2:ry(0),stroke:'#00008B','stroke-width':23,'stroke-linecap':'round'});
  
  
});
baselineSingleMb.forEach(function(m){
  const dot = add(gB,'circle',{cx:rx(m),cy:ry(0),r:11.5,fill:'#00008B'});
  
  
});
regionalHits.forEach(function(p){
  const dot = add(gB,'circle',{cx:rx(p[0]).toFixed(1),cy:ry(p[1]).toFixed(1),r:11.5,fill:'#00008B'});
  
  
});
leadSnpMb.forEach(function(m,i){
  const dot = add(gB,'circle',{cx:rx(m).toFixed(1),cy:ry(leadSnpLogP[i]).toFixed(1),r:11.5,fill:'#FF0000'});
  
  
});

// ---------- Panel C: links ----------
const gL = document.getElementById('ldlinks');
const linkBand = add(gL,'rect',{x:340,y:1887,width:2668,height:209,rx:3,fill:'#000'});


linkGaps.forEach(function(g){
  const apexX = ldX0 + ldW*g[2]/100;
  const apexY = 1897 + 199*g[3];
  const pts = rx(g[0]).toFixed(1)+',1897 '+rx(g[1]).toFixed(1)+',1897 '+apexX.toFixed(1)+','+apexY.toFixed(1);
  const wedge = add(gL,'polygon',{points:pts,fill:'#fff'});
  
  
});

// ---------- Panel C: heatmap ----------
const gM = document.getElementById('ldmap');
const defs = add(gM,'defs',{});
const clip = add(defs,'clipPath',{id:'ld-triangle'});
add(clip,'polygon',{points:ldX0+','+ldY0+' '+(ldX0+ldW)+','+ldY0+' '+(ldX0+ldW/2)+','+(ldY0+ldH)});
const gClip = add(gM,'g',{'clip-path':'url(#ld-triangle)'});


const ldFill = add(gClip,'rect',{x:ldX0,y:ldY0,width:ldW,height:ldH,fill:r2Palette[0]});



ldStreakSnps.forEach(function(s){
  const p = add(gClip,'polyline',{points:ldPt(0,s)+' '+ldPt(s,s)+' '+ldPt(s,100),fill:'none',stroke:'#FFFF8C','stroke-width':2.5,opacity:0.5});
  
  
});

[ldBlocksLower,ldBlocksMiddle,ldBlocksLeft,ldBlocksBase,ldBlocksRight].forEach(function(group){
  group.forEach(function(b){
    const a0 = b[0]-b[1]/2-b[2]/2, a1 = a0+b[2];
    const b0 = b[0]+b[1]/2-b[3]/2, b1 = b0+b[3];
    const pts = ldPt(a0,b0)+' '+ldPt(a1,b0)+' '+ldPt(a1,b1)+' '+ldPt(a0,b1);
    const cell = add(gClip,'polygon',{points:pts,fill:r2Color(b[4]),opacity:b[4]<0.13?0.6:(b[4]<0.21?0.75:1)});
    
    
  });
});

ldGapSnps.forEach(function(s){
  const p = add(gClip,'polyline',{points:ldPt(0,s)+' '+ldPt(s,s)+' '+ldPt(s,100),fill:'none',stroke:r2Palette[0],'stroke-width':3.5});
  
  
});

// ---------- colour bar ----------
const gC = document.getElementById('colorbar');
const cbX0 = 2085, cbX1 = 3013, cbTop = 3205, cbBottom = 3300;
function cbx(v){ return cbX0 + (cbX1-cbX0)*v; }
r2Palette.forEach(function(c,i){
  const seg = add(gC,'rect',{x:cbx(i/r2Palette.length),y:cbTop,width:(cbX1-cbX0)/r2Palette.length+0.5,height:cbBottom-cbTop,fill:c});
  
  
});
const cbBorder = add(gC,'path',{d:'M'+cbX0+' '+cbBottom+'V'+cbTop+'H'+cbX1+'M'+cbX0+' '+cbBottom+'H'+cbX1,stroke:'#000','stroke-width':3.5,fill:'none'});


colorbarTicks.forEach(function(v,i){
  const t = add(gC,'line',{x1:cbx(v),x2:cbx(v),y1:cbBottom,y2:3322,stroke:'#000','stroke-width':2.5});
  
  
  const l = add(gC,'text',{x:cbx(v)-(i===0?6:i===5?8:0),y:3391,'font-size':68,'text-anchor':'middle'});
  l.textContent = colorbarLabels[i];
  
  
});
</script>
</body>
</html>
